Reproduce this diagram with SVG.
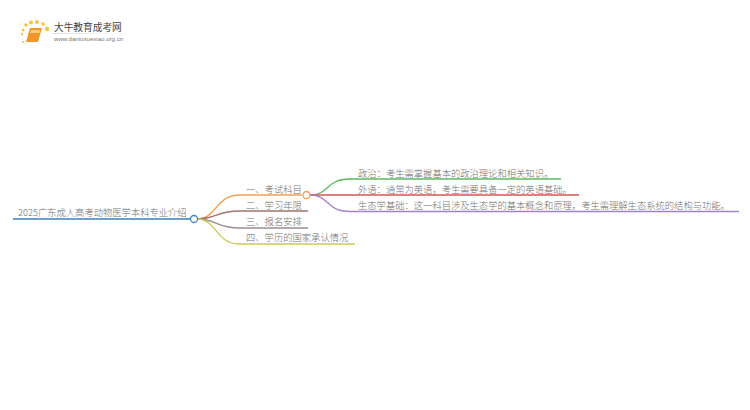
<svg xmlns="http://www.w3.org/2000/svg" width="750" height="410" viewBox="0 0 750 410">
<defs>
<style>
text{font-family:"Noto Sans CJK SC","Liberation Sans",sans-serif;fill:#6f6f6f;font-size:9.300px;font-weight:300}
.c{fill:none;stroke-width:1.300}
.n{fill:#fff;stroke-width:1.300}
</style>
<linearGradient id="fade" x1="0" x2="1" y1="0" y2="0"><stop offset="0" stop-color="#ddd"/><stop offset="1" stop-color="#fff"/></linearGradient>
</defs>
<rect width="750" height="410" fill="#fff"/>
<g id="logo">
<g fill="#f9c23c"><circle cx="22" cy="34" r="1.200"/><circle cx="23" cy="30" r="1.500"/><circle cx="26" cy="25" r="1.700"/><circle cx="31" cy="22.500" r="2"/><circle cx="37" cy="22" r="2"/><circle cx="43" cy="24" r="1.800"/><circle cx="47" cy="29" r="2.200"/><circle cx="23" cy="42" r="1"/></g>
<path d="M30 28H42L38 42H26Z" fill="#f0962a"/><path d="M31 30H40L39.500 33H30Z" fill="#fbd070"/>
<text x="54" y="31" style="font-size:9.700px;fill:#444;font-weight:400">大牛教育成考网</text>
<text x="54" y="41" style="font-size:6.100px;fill:#777;font-family:'Liberation Sans',sans-serif">www.daniuxuexiao.org.cn</text>
<rect x="53" y="33" width="80" height="1" fill="url(#fade)"/>
</g>
<g id="connectors">
<path class="c" stroke="#f5a04c" d="M197 219C217 219 215 195 240 195H245"/>
<path class="c" stroke="#a5736b" d="M197 219C217 219 215 211 240 211H245"/>
<path class="c" stroke="#9a8f8f" d="M197 219C217 219 215 228 240 228H245"/>
<path class="c" stroke="#c9c95a" d="M197 219C217 219 215 244 240 244H245"/>
<path class="c" stroke="#5cb85c" d="M310 195C330 195 325 179 350 179H358"/>
<path class="c" stroke="#d9534f" d="M310 195H358"/>
<path class="c" stroke="#a87fd0" d="M310 195C330 195 325 211.500 350 211.500H358"/>
</g>
<g id="root"><path d="M13 219H190" stroke="#3d7fb8" stroke-width="1.300" fill="none"/><text x="18" y="216">2025广东成人高考动物医学本科专业介绍</text><circle class="n" cx="194" cy="219" r="3.500" stroke="#3d87c4"/></g>
<g id="n1"><path d="M245 195H302" stroke="#f5a04c" stroke-width="1.300"/><text x="246" y="192.500">一、考试科目</text><circle class="n" cx="306.500" cy="195" r="3.500" stroke="#f5a04c"/></g>
<g id="n2"><path d="M245 211H308" stroke="#a5736b" stroke-width="1.300"/><text x="246" y="208.500">二、学习年限</text></g>
<g id="n3"><path d="M245 228H308" stroke="#9a8f8f" stroke-width="1.300"/><text x="246" y="225">三、报名安排</text></g>
<g id="n4"><path d="M245 244H355" stroke="#c9c95a" stroke-width="1.300"/><text x="246" y="241">四、学历的国家承认情况</text></g>
<g id="l1"><path d="M358 179H561" stroke="#5cb85c" stroke-width="1.300"/><text x="358" y="176.500">政治：考生需掌握基本的政治理论和相关知识。</text></g>
<g id="l2"><path d="M358 195H579" stroke="#d9534f" stroke-width="1.300"/><text x="358" y="192.500">外语：通常为英语，考生需要具备一定的英语基础。</text></g>
<g id="l3"><path d="M358 211.500H739" stroke="#a87fd0" stroke-width="1.300"/><text x="358" y="209">生态学基础：这一科目涉及生态学的基本概念和原理，考生需理解生态系统的结构与功能。</text></g>
</svg>
